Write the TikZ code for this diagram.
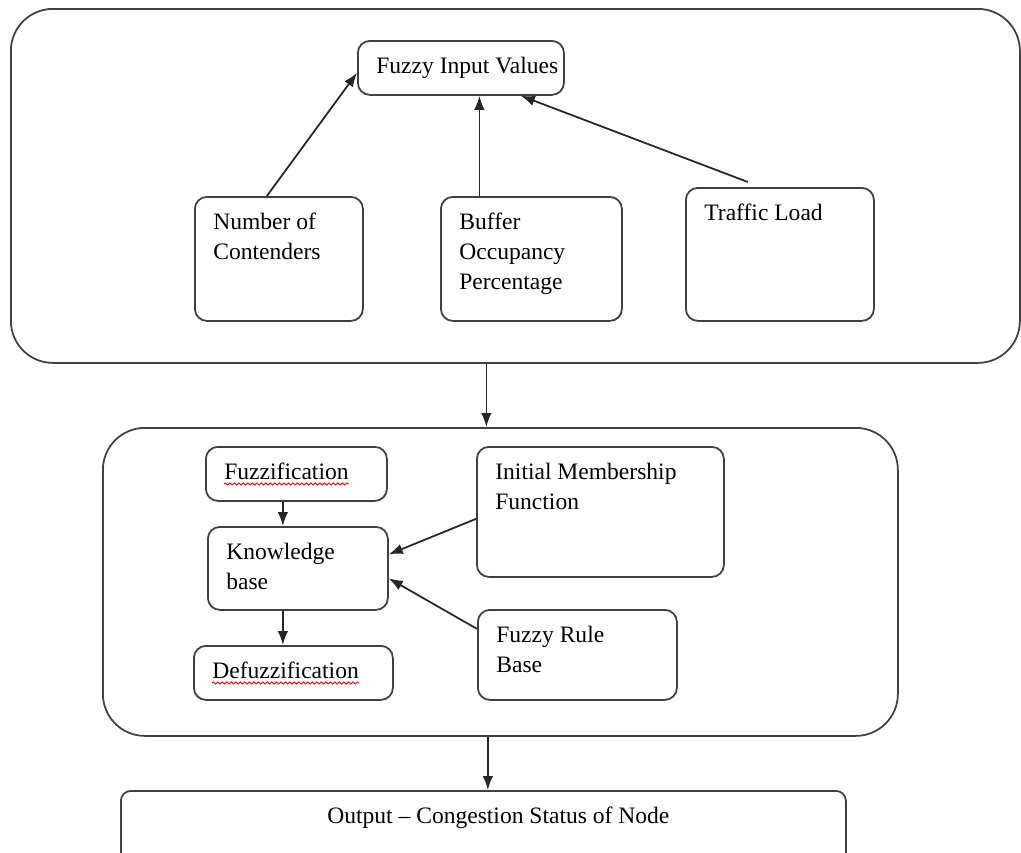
\documentclass[tikz,border=0pt]{standalone}
\usepackage{fontspec}
\setmainfont{Liberation Serif}
\usepackage{tikz}
\usetikzlibrary{arrows,arrows.meta,positioning,decorations.pathmorphing}

\begin{document}
\begin{tikzpicture}[x=0.2mm,y=-0.2mm]
\tikzstyle{blk}=[draw=black!75, line width=1pt, rounded corners=2.4mm, anchor=north west, inner sep=0pt]
\tikzstyle{group}=[blk, rounded corners=8.4mm]
\tikzstyle{lbl}=[anchor=north west, inner sep=0pt, align=left, xshift=3.8mm, yshift=-3.4mm,
  font=\fontsize{13.4}{17}\selectfont]
\tikzstyle{arr}=[-{Latex[length=2.8mm,width=2.1mm]}, line width=1pt, black!85]
\tikzstyle{squiggle}=[red, line width=0.5pt, decorate, decoration={snake, amplitude=0.22mm, segment length=0.9mm}]
\path[use as bounding box, clip] (0,0) rectangle (1021,852);
% inputs
\node[group, minimum width=201.8mm, minimum height=70.8mm] (top) at (10,8) {};
\node[blk, minimum width=41.2mm, minimum height=10.8mm, label={[lbl]north west:Fuzzy Input Values}] (fiv) at (357,40) {};
\node[blk, minimum width=33.6mm, minimum height=24.8mm, label={[lbl]north west:{Number of\\Contenders}}] (noc) at (194,196) {};
\node[blk, minimum width=36.2mm, minimum height=24.8mm, label={[lbl]north west:{Buffer\\Occupancy\\Percentage}}] (buf) at (440,196) {};
\node[blk, minimum width=37.6mm, minimum height=26.6mm, label={[lbl]north west:Traffic Load}] (tra) at (685,187) {};
% inference
\node[group, minimum width=159mm, minimum height=61.6mm] (mid) at (102,427) {};
\node[blk, minimum width=36.2mm, minimum height=10.8mm, label={[lbl, name=fuzt]north west:Fuzzification}] (fuz) at (205,446) {};
\node[blk, minimum width=36mm, minimum height=16.6mm, label={[lbl]north west:{Knowledge\\base}}] (kb) at (207,526) {};
\node[blk, minimum width=39.8mm, minimum height=10.8mm, label={[lbl, name=deft]north west:Defuzzification}] (def) at (193,645) {};
\node[blk, minimum width=49.4mm, minimum height=26mm, label={[lbl]north west:{Initial Membership\\Function}}] (imf) at (476,446) {};
\node[blk, minimum width=39.8mm, minimum height=18mm, label={[lbl]north west:{Fuzzy Rule\\Base}}] (frb) at (477,609) {};
% output
\node[blk, rounded corners=2mm, minimum width=145mm, minimum height=16mm,
  label={[lbl, anchor=north, xshift=-0.8mm]north:Output -- Congestion Status of Node}] (out) at (120,790) {};

\draw[squiggle] ([yshift=-0.8mm]fuzt.base west) -- ([yshift=-0.8mm]fuzt.base east);
\draw[squiggle] ([yshift=-0.8mm]deft.base west) -- ([yshift=-0.8mm]deft.base east);

\draw[arr] ([xshift=-2.4mm]noc.north) -- ([yshift=-1mm]fiv.west);
\draw[arr] ([xshift=-10.4mm]buf.north) -- ([xshift=-10.4mm]buf.north |- fiv.south);
\draw[arr] ([xshift=-6.4mm,yshift=1mm]tra.north) -- ([xshift=12mm]fiv.south);
\draw[arr] ([xshift=-5.8mm]top.south) -- ([xshift=-5.8mm]top.south |- mid.north);
\draw[arr] ([xshift=-2.7mm]fuz.south) -- ([xshift=-2.7mm]fuz.south |- kb.north);
\draw[arr] ([xshift=-3mm]kb.south) -- ([xshift=-3mm]kb.south |- def.north);
\draw[arr] ([yshift=-1.4mm]imf.west) -- ([yshift=2.8mm]kb.east);
\draw[arr] ([yshift=5.2mm]frb.west) -- ([yshift=-2mm]kb.east);
\draw[arr] ([xshift=-2.5mm]mid.south) -- ([xshift=-2.5mm]mid.south |- out.north);
\end{tikzpicture}
\end{document}
